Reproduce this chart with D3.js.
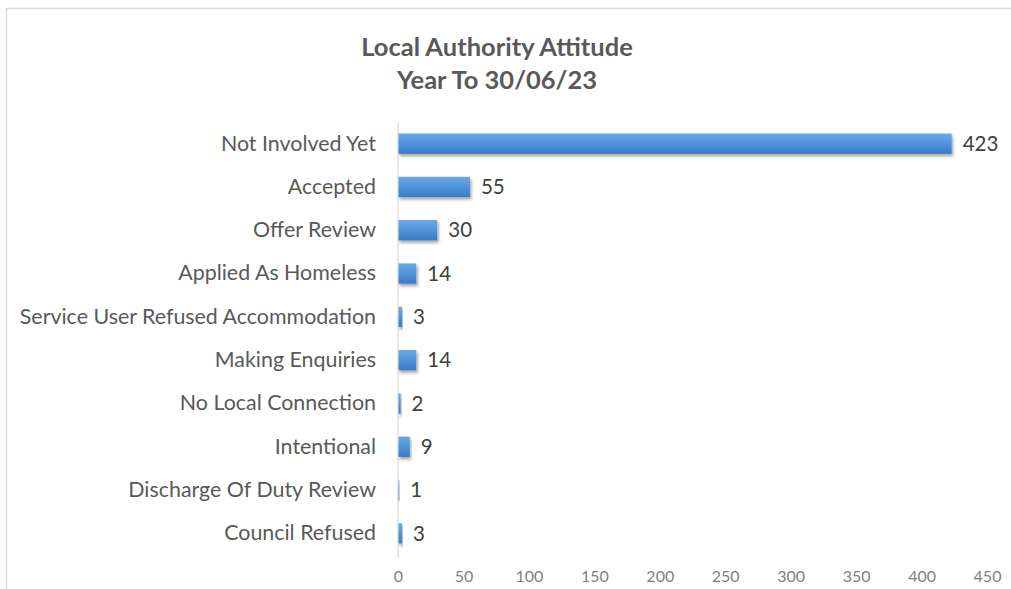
<!DOCTYPE html>
<html>
<head>
<meta charset="utf-8">
<script src="https://cdn.jsdelivr.net/npm/d3@7"></script>
<style>
  html, body { margin: 0; padding: 0; background: #ffffff; }
  svg { display: block; font-family: Lato, "Open Sans", sans-serif; }
</style>
</head>
<body>
<svg id="chart" width="1011" height="589"></svg>
<script>
// Chart data
const titleLines = ["Local Authority Attitude", "Year To 30/06/23"];
const categories = [
  "Not Involved Yet",
  "Accepted",
  "Offer Review",
  "Applied As Homeless",
  "Service User Refused Accommodation",
  "Making Enquiries",
  "No Local Connection",
  "Intentional",
  "Discharge Of Duty Review",
  "Council Refused"
];
const values = [423, 55, 30, 14, 3, 14, 2, 9, 1, 3];
const xTicks = [0, 50, 100, 150, 200, 250, 300, 350, 400, 450];

const svg = d3.select("#chart");
const W = 1011, H = 589;
const plot = { left: 398, right: 987, top: 122, bottom: 555 };

// Chart frame
svg.append("rect")
  .attr("x", 6.5).attr("y", 8.5)
  .attr("width", W + 20).attr("height", H + 20)
  .attr("fill", "#ffffff")
  .attr("stroke", "#d9d9d9").attr("stroke-width", 1.5);

const defs = svg.append("defs");
const grad = defs.append("linearGradient")
  .attr("id", "barFill").attr("x1", 0).attr("y1", 0).attr("x2", 0).attr("y2", 1);
grad.append("stop").attr("offset", "0%").attr("stop-color", "#6aa9e6");
grad.append("stop").attr("offset", "50%").attr("stop-color", "#4f93da");
grad.append("stop").attr("offset", "100%").attr("stop-color", "#3a7bc4");

const shadow = defs.append("filter").attr("id", "barShadow")
  .attr("x", "-5%").attr("y", "-30%").attr("width", "120%").attr("height", "180%");
shadow.append("feDropShadow")
  .attr("dx", 1.5).attr("dy", 2.5).attr("stdDeviation", 1.8)
  .attr("flood-color", "#000000").attr("flood-opacity", 0.35);

// Scales
const x = d3.scaleLinear().domain([0, 450]).range([plot.left, plot.right]);
const y = d3.scaleBand().domain(categories).range([plot.top, plot.bottom]).paddingInner(0.53).paddingOuter(0.265);

// Title
svg.append("g").selectAll("text")
  .data(titleLines)
  .join("text")
  .attr("x", 497)
  .attr("y", (d, i) => 56 + i * 33)
  .attr("text-anchor", "middle")
  .attr("font-size", 25.5)
  .attr("font-weight", "bold")
  .attr("fill", "#595959")
  .text(d => d);

// Bars
const data = categories.map((c, i) => ({ c, v: values[i] }));
svg.append("g").selectAll("rect")
  .data(data)
  .join("rect")
  .attr("x", x(0))
  .attr("y", d => y(d.c))
  .attr("width", d => x(d.v) - x(0))
  .attr("height", y.bandwidth())
  .attr("fill", "url(#barFill)")
  .attr("filter", "url(#barShadow)");

// Category axis (vertical line + labels)
const yAxis = svg.append("g")
  .attr("transform", `translate(${x(0)},0)`)
  .call(d3.axisLeft(y).tickSize(0).tickPadding(22));
yAxis.select(".domain").attr("stroke", "#d9d9d9").attr("stroke-width", 1.2)
  .attr("d", `M0,${plot.top}V${plot.bottom + 3}`);
yAxis.selectAll("text")
  .attr("font-family", "Lato, 'Open Sans', sans-serif")
  .attr("font-size", 21.4)
  .attr("fill", "#595959");

// Value labels
svg.append("g").selectAll("text")
  .data(data)
  .join("text")
  .attr("x", d => x(d.v) + 11)
  .attr("y", d => y(d.c) + y.bandwidth() / 2)
  .attr("dy", "0.35em")
  .attr("font-size", 20.5)
  .attr("fill", "#404040")
  .text(d => d.v);

// Value axis tick labels (no line)
const xAxis = svg.append("g")
  .attr("transform", `translate(0,${plot.bottom})`)
  .call(d3.axisBottom(x).tickValues(xTicks).tickSize(0).tickPadding(16));
xAxis.select(".domain").remove();
xAxis.selectAll("text")
  .attr("font-family", "Lato, 'Open Sans', sans-serif")
  .attr("font-size", 16)
  .attr("fill", "#7f7f7f");
</script>
</body>
</html>
